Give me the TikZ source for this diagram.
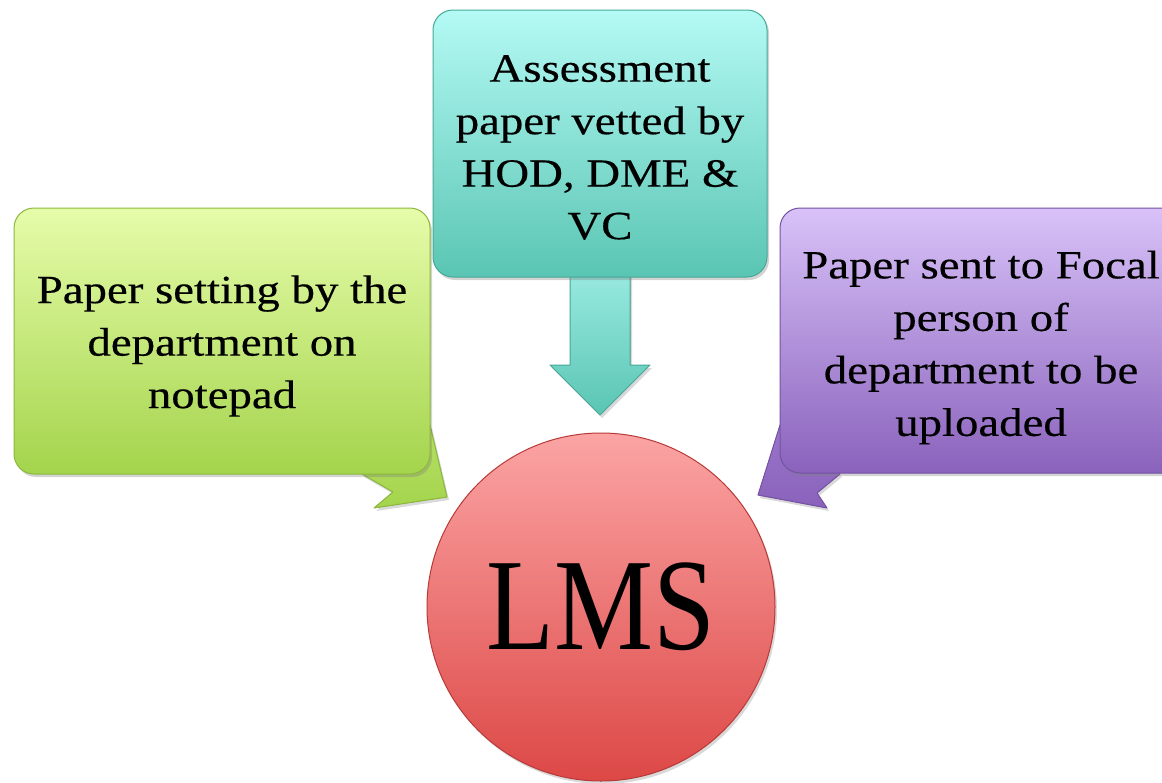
\documentclass[tikz,border=0pt]{standalone}
\usepackage{fontspec}
\setmainfont{Liberation Serif}
\newfontfamily\boxfont[FakeStretch=1.17,FakeBold=0.4]{Liberation Serif}
\newfontfamily\lmsfont[FakeStretch=0.85]{Liberation Serif}
\usetikzlibrary{shadows}
\definecolor{gTop}{HTML}{E6FCAA}
\definecolor{gBot}{HTML}{A4D44C}
\definecolor{gLine}{HTML}{8CB83C}
\definecolor{tTop}{HTML}{B4FAF5}
\definecolor{tBot}{HTML}{5AC5B3}
\definecolor{tLine}{HTML}{48A898}
\definecolor{pTop}{HTML}{D8C2F8}
\definecolor{pBot}{HTML}{8A62BC}
\definecolor{pLine}{HTML}{7452A4}
\definecolor{rTop}{HTML}{FBA4A4}
\definecolor{rBot}{HTML}{DC4846}
\definecolor{rLine}{HTML}{B83A38}
\newcommand\loweredtext[3]{\raisebox{#1}[\height][\depth]{\parbox{#2}{\centering #3}}}
\tikzset{
  callbox/.style={rounded corners=20pt, line width=1pt,
    font=\fontsize{40pt}{52.5pt}\selectfont\boxfont, inner sep=0pt,
    drop shadow={opacity=0.35, shadow xshift=2pt, shadow yshift=-3pt}},
  tailshape/.style={line width=1pt, line join=round,
    drop shadow={opacity=0.3, shadow xshift=2pt, shadow yshift=-3pt}},
}
\begin{document}
\begin{tikzpicture}[x=1pt,y=-1pt]
\useasboundingbox (0,0) rectangle (1162,782);
\clip (0,0) rectangle (1162,782);

% centre circle
\node (lms) [circle, minimum size=348pt, inner sep=0pt, top color=rTop, bottom color=rBot,
  draw=rLine, line width=1pt,
  drop shadow={opacity=0.3, shadow xshift=2pt, shadow yshift=-3pt},
  font=\fontsize{131pt}{131pt}\selectfont\lmsfont] at (601,607) {LMS};

% teal block arrow (drawn before its box)
\coordinate (ttip) at (600,415);
\filldraw[tailshape, top color=tTop!70!tBot, bottom color=tBot, draw=tLine]
  (570,270) -- (630,270) -- (630,365) -- (650,365) -- (ttip) -- (550,365) -- (570,365) -- cycle;

% green tail
\coordinate (gtip) at (447,497);
\filldraw[tailshape, top color=gBot!70!gTop, bottom color=gBot, draw=gLine]
  (405,440) -- (430,425) -- (gtip) -- (374,508) -- (393,492) -- (362,474) -- (380,455) -- cycle;

% purple tail
\coordinate (ptip) at (758,495);
\filldraw[tailshape, top color=pBot!80!pTop, bottom color=pBot, draw=pLine]
  (805,440) -- (780,425) -- (ptip) -- (827,508) -- (817,493) -- (840,474) -- (820,455) -- cycle;

% boxes
\node (green) [callbox, minimum width=416pt, minimum height=266pt,
  top color=gTop, bottom color=gBot, draw=gLine] at (222,341)
  {\loweredtext{-5pt}{400pt}{Paper setting by the\\department on\\notepad}};

\node (teal) [callbox, minimum width=334pt, minimum height=267pt,
  top color=tTop, bottom color=tBot, draw=tLine] at (600,143.5)
  {\loweredtext{-4pt}{320pt}{Assessment\\paper vetted by\\HOD, DME \&\\VC}};

\node (purple) [callbox, minimum width=402pt, minimum height=265pt,
  top color=pTop, bottom color=pBot, draw=pLine] at (981,340.5)
  {\loweredtext{-7pt}{390pt}{Paper sent to Focal\\person of\\department to be\\uploaded}};
\end{tikzpicture}
\end{document}
